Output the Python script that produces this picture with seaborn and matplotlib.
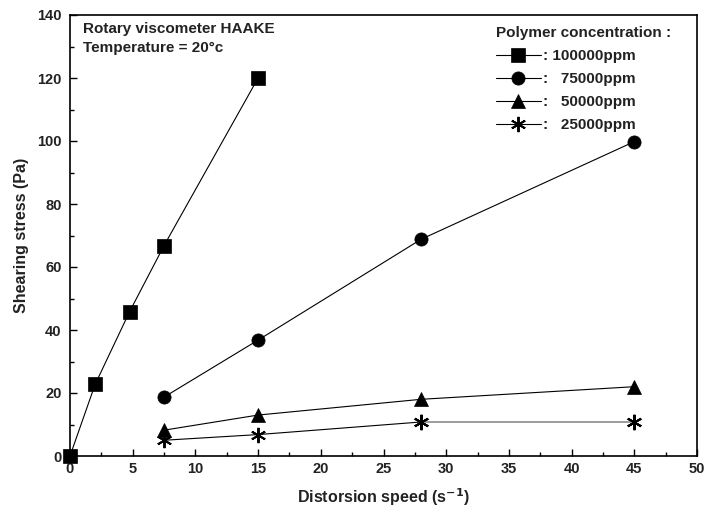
import matplotlib
matplotlib.use("Agg")
import matplotlib.pyplot as plt
import seaborn as sns
import pandas as pd
from matplotlib.ticker import MultipleLocator
from matplotlib.lines import Line2D

sns.set_theme(style="white")
plt.rcParams['font.family'] = ['Liberation Sans', 'DejaVu Sans']

labels = [": 100000ppm", ":   75000ppm", ":   50000ppm", ":   25000ppm"]
x_100k = [0, 2, 4.75, 7.5, 15]
y_100k = [0, 22.7, 45.8, 66.8, 120]
x_75k = [7.5, 15, 28, 45]
y_75k = [18.7, 36.8, 68.8, 99.8]
x_50k = [7.5, 15, 28, 45]
y_50k = [8.2, 13.0, 18.0, 22.0]
x_25k = [7.5, 15, 28, 45]
y_25k = [5.0, 6.8, 10.8, 10.8]

series = [(x_100k, y_100k, 's', 9.5), (x_75k, y_75k, 'o', 9.5),
          (x_50k, y_50k, '^', 10.5), (x_25k, y_25k, (6, 2, 0), 11)]

fig = plt.figure(figsize=(7.10, 5.13), dpi=100)
ax = fig.add_axes([70/710, 1-456/513, (697-70)/710, (456-15)/513])

handles = []
for (xs, ys, m, ms), lab in zip(series, labels):
    df = pd.DataFrame({"x": xs, "y": ys})
    sns.lineplot(data=df, x="x", y="y", ax=ax, color="black", lw=0.8,
                 marker=m, markersize=ms, markeredgecolor="black",
                 markeredgewidth=1.4 if m == (6, 2, 0) else 0.5,
                 markerfacecolor="black", sort=False, legend=False,
                 estimator=None, clip_on=False, zorder=3)
    handles.append(Line2D([], [], color="black", lw=0.8, marker=m,
                          markersize=ms, markeredgewidth=1.4 if m == (6, 2, 0) else 0.5,
                          markerfacecolor="black", markeredgecolor="black"))

# grey final segment of 25000ppm series
df_last = pd.DataFrame({"x": x_25k[-2:], "y": y_25k[-2:]})
sns.lineplot(data=df_last, x="x", y="y", ax=ax, color="#a0a0a0", lw=1.4,
             legend=False, estimator=None, zorder=3.5)
ax.plot(x_25k[-2:], y_25k[-2:], linestyle='none', marker=(6, 2, 0), markersize=11,
        markeredgewidth=1.4, color="black", zorder=4)

ax.set_xlim(0, 50)
ax.set_ylim(0, 140)
ax.xaxis.set_major_locator(MultipleLocator(5))
ax.xaxis.set_minor_locator(MultipleLocator(2.5))
ax.yaxis.set_major_locator(MultipleLocator(20))
ax.yaxis.set_minor_locator(MultipleLocator(10))
ax.tick_params(which='both', direction='in', top=False, right=False,
               bottom=True, left=True, width=1.0, color='black')
ax.tick_params(which='major', length=5, labelsize=10.5, pad=4)
ax.tick_params(axis='y', which='major', pad=6)
ax.tick_params(which='minor', length=3)
for lab in ax.get_xticklabels() + ax.get_yticklabels():
    lab.set_fontweight('bold')
    lab.set_color('#222222')
for sp in ax.spines.values():
    sp.set_color('black')
    sp.set_linewidth(1.2)

ax.set_xlabel("Distorsion speed (s$^{\\mathbf{-1}}$)", fontsize=11.5, fontweight='bold',
              color='#222222', labelpad=8)
ax.set_ylabel("Shearing stress (Pa)", fontsize=11.5, fontweight='bold', color='#222222',
              labelpad=6)

ax.text(0.02, 0.983, "Rotary viscometer HAAKE\nTemperature = 20°c",
        transform=ax.transAxes, ha='left', va='top', fontsize=11,
        fontweight='bold', color='#222222', linespacing=1.45)

leg = ax.legend(handles, labels, title="Polymer concentration :", loc='upper right',
                bbox_to_anchor=(0.975, 1.0), frameon=False, handlelength=3.0,
                handletextpad=0.1, labelspacing=0.6, fontsize=11,
                title_fontsize=11, borderaxespad=0.3)
leg._legend_box.align = "left"
leg.get_title().set_fontweight('bold')
leg.get_title().set_color('#222222')
for t in leg.get_texts():
    t.set_fontweight('bold')
    t.set_color('#222222')

fig.savefig("out.png", dpi=100)
